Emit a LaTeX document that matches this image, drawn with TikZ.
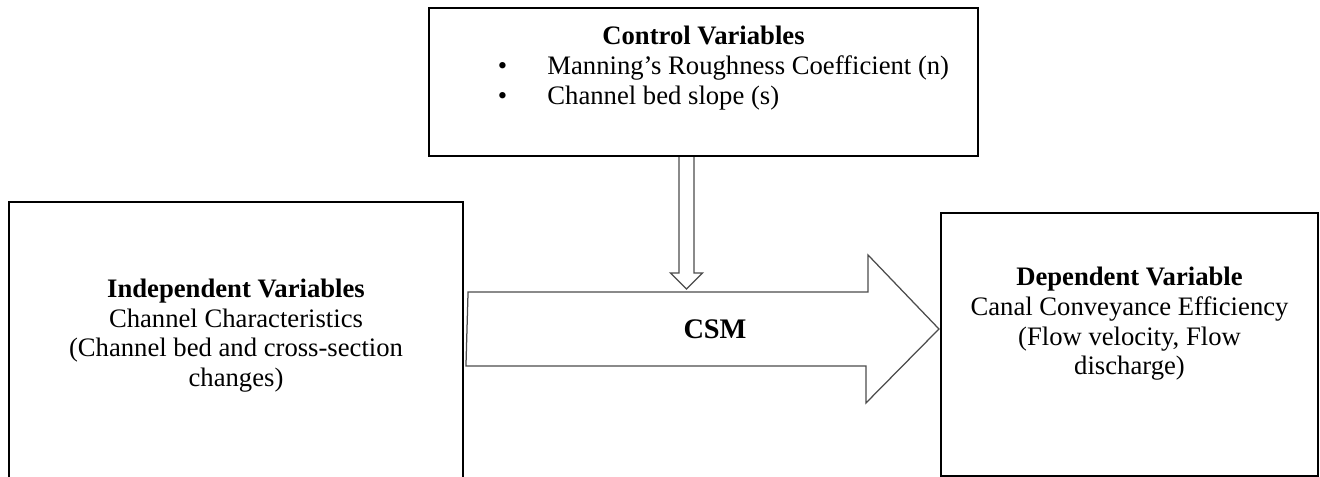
\documentclass[tikz,border=0pt]{standalone}
\usepackage{fontspec}
\setmainfont{Liberation Serif}
\usetikzlibrary{calc}
\newcommand\pxu{0.48pt}

\begin{document}
\begin{tikzpicture}[x=0.48pt, y=-0.48pt,
  box/.style={draw, line width=1pt, inner sep=0pt},
  txt/.style={inner sep=0pt, anchor=base, font=\fontsize{12.8}{14.2}\selectfont},
  blk/.style={draw=black!70, line width=0.6pt, fill=white}]
\useasboundingbox (0,0) rectangle (1320,477);
\node[box, minimum width=549*\pxu, minimum height=148*\pxu] (ctrl) at (703.5,82) {};
\node[box, minimum width=454*\pxu, minimum height=298*\pxu] (lbox) at (236,351) {};
\node[box, minimum width=377*\pxu, minimum height=263*\pxu] (rbox) at (1129.5,344.5) {};
\node[txt] (ctrlhead) at (703.5,45) {\textbf{Control Variables}};
\node[txt, anchor=base west] (ctrllist) at (492,75) {\begin{tabular}[t]{@{}c@{\hspace{16.8pt}}l@{}}
  \makebox[9.6pt]{\textbullet} & Manning’s Roughness Coefficient (n)\\
  \makebox[9.6pt]{\textbullet} & Channel bed slope (s)\end{tabular}};
\node[txt] (lhead) at (236,297.7) {\begin{tabular}[t]{@{}c@{}}\textbf{Independent Variables}\\Channel Characteristics\\
  (Channel bed and cross-section\\changes)\end{tabular}};
\node[txt] (rhead) at (1129.5,286) {\begin{tabular}[t]{@{}c@{}}\textbf{Dependent Variable}\\Canal Conveyance Efficiency\\
  (Flow velocity, Flow\\discharge)\end{tabular}};
\coordinate (csmtail) at ($(lbox.east |- 0,329)+(4,0)$);
\coordinate (csmtip) at ($(rbox.west |- 0,329)+(-1,0)$);
\draw[blk] (csmtail) ++(0,-37) -- ++(400,0) -- ++(0,-37) -- (csmtip) -- ++(-73,74) -- ++(0,-37) -- ++(-400,0) -- cycle;
\draw[blk] ($(ctrl.south)+(-24.5,0)$) -- ++(0,116) -- ++(-8.5,0) -- ++(16,16) -- ++(16,-16) -- ++(-8.5,0) -- ++(0,-116);
\node[txt, font=\fontsize{13.6}{15}\selectfont\bfseries] (csm) at (715,339) {CSM};
\end{tikzpicture}
\end{document}
